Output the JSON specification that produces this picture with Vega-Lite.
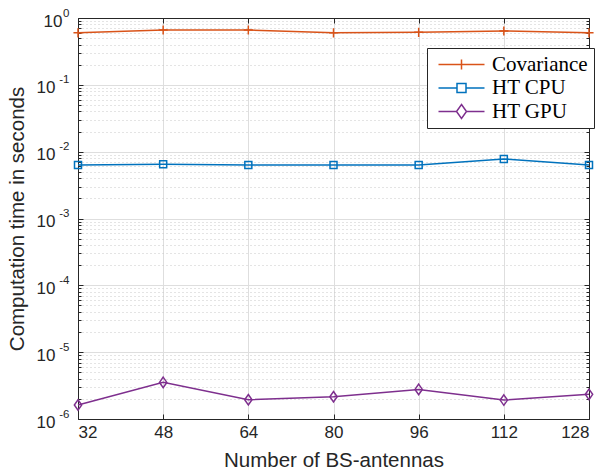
{
  "$schema": "https://vega.github.io/schema/vega-lite/v6.json",
  "width": 511,
  "height": 401,
  "autosize": {"type": "none"},
  "padding": {"left": 78, "top": 18, "right": 24, "bottom": 53},
  "background": "white",
  "config": {
    "view": {"stroke": null},
    "axis": {
      "labelFont": "Liberation Sans",
      "titleFont": "Liberation Sans",
      "labelColor": "#262626",
      "titleColor": "#262626",
      "domainColor": "#262626",
      "tickColor": "#262626",
      "labelFontSize": 17,
      "titleFontSize": 20.5,
      "titleFontWeight": "normal"
    }
  },
  "data": {
    "values": [
      {"n": 32, "series": "Covariance", "t": 0.60},
      {"n": 48, "series": "Covariance", "t": 0.66},
      {"n": 64, "series": "Covariance", "t": 0.66},
      {"n": 80, "series": "Covariance", "t": 0.60},
      {"n": 96, "series": "Covariance", "t": 0.61},
      {"n": 112, "series": "Covariance", "t": 0.64},
      {"n": 128, "series": "Covariance", "t": 0.60},
      {"n": 32, "series": "HT CPU", "t": 0.0063},
      {"n": 48, "series": "HT CPU", "t": 0.0065},
      {"n": 64, "series": "HT CPU", "t": 0.0063},
      {"n": 80, "series": "HT CPU", "t": 0.0063},
      {"n": 96, "series": "HT CPU", "t": 0.0063},
      {"n": 112, "series": "HT CPU", "t": 0.0078},
      {"n": 128, "series": "HT CPU", "t": 0.0063},
      {"n": 32, "series": "HT GPU", "t": 1.62e-6},
      {"n": 48, "series": "HT GPU", "t": 3.53e-6},
      {"n": 64, "series": "HT GPU", "t": 1.94e-6},
      {"n": 80, "series": "HT GPU", "t": 2.15e-6},
      {"n": 96, "series": "HT GPU", "t": 2.77e-6},
      {"n": 112, "series": "HT GPU", "t": 1.92e-6},
      {"n": 128, "series": "HT GPU", "t": 2.34e-6}
    ]
  },
  "resolve": {"axis": {"x": "independent", "y": "independent"}},
  "layer": [
    {
      "mark": {"type": "point", "opacity": 0},
      "encoding": {
        "x": {"field": "n", "type": "quantitative", "scale": {"domain": [32, 128], "nice": false, "zero": false}, "axis": null},
        "y": {"field": "t", "type": "quantitative", "scale": {"type": "log", "domain": [1e-6, 1], "nice": false},
          "axis": {"orient": "left", "title": null, "labels": false, "domain": false, "tickSize": -3, "grid": true, "gridColor": "#c9c9c9", "gridDash": [1, 3], "gridWidth": 1,
            "values": [2e-6,3e-6,4e-6,5e-6,6e-6,7e-6,8e-6,9e-6,2e-5,3e-5,4e-5,5e-5,6e-5,7e-5,8e-5,9e-5,2e-4,3e-4,4e-4,5e-4,6e-4,7e-4,8e-4,9e-4,2e-3,3e-3,4e-3,5e-3,6e-3,7e-3,8e-3,9e-3,0.02,0.03,0.04,0.05,0.06,0.07,0.08,0.09,0.2,0.3,0.4,0.5,0.6,0.7,0.8,0.9]}}
      }
    },
    {
      "mark": {"type": "point", "opacity": 0},
      "encoding": {
        "x": {"field": "n", "type": "quantitative", "axis": null},
        "y": {"field": "t", "type": "quantitative",
          "axis": {"orient": "right", "title": null, "labels": false, "domain": false, "tickSize": -3, "grid": false,
            "values": [2e-6,3e-6,4e-6,5e-6,6e-6,7e-6,8e-6,9e-6,2e-5,3e-5,4e-5,5e-5,6e-5,7e-5,8e-5,9e-5,2e-4,3e-4,4e-4,5e-4,6e-4,7e-4,8e-4,9e-4,2e-3,3e-3,4e-3,5e-3,6e-3,7e-3,8e-3,9e-3,0.02,0.03,0.04,0.05,0.06,0.07,0.08,0.09,0.2,0.3,0.4,0.5,0.6,0.7,0.8,0.9]}}
      }
    },
    {
      "mark": {"type": "point", "opacity": 0},
      "encoding": {
        "x": {"field": "n", "type": "quantitative", "axis": null},
        "y": {"field": "t", "type": "quantitative",
          "axis": {"orient": "left", "title": null, "domain": false, "ticks": false, "grid": false, "values": [1e-6, 1e-5, 1e-4, 1e-3, 1e-2, 1e-1],
            "labelExpr": "'10'", "labelAlign": "right", "labelBaseline": "middle", "labelPadding": 23, "labelOffset": 3, "labelFontSize": 17}}
      }
    },
    {
      "mark": {"type": "point", "opacity": 0},
      "encoding": {
        "x": {"field": "n", "type": "quantitative", "axis": null},
        "y": {"field": "t", "type": "quantitative",
          "axis": {"orient": "left", "title": null, "domain": false, "ticks": false, "grid": false, "values": [1],
            "labelExpr": "'10'", "labelAlign": "right", "labelBaseline": "middle", "labelPadding": 16, "labelOffset": 3, "labelFontSize": 17}}
      }
    },
    {
      "mark": {"type": "point", "opacity": 0},
      "encoding": {
        "x": {"field": "n", "type": "quantitative", "axis": null},
        "y": {"field": "t", "type": "quantitative",
          "axis": {"orient": "left", "title": null, "domain": false, "ticks": false, "grid": false, "values": [1e-6, 1e-5, 1e-4, 1e-3, 1e-2, 1e-1, 1],
            "labelExpr": "['0','-1','-2','-3','-4','-5','-6'][round(-log(datum.value)/LN10)]",
            "labelAlign": "right", "labelBaseline": "middle", "labelPadding": 9, "labelOffset": -5, "labelFontSize": 11.5}}
      }
    },
    {
      "mark": {"type": "line", "strokeWidth": 1.5},
      "encoding": {
        "x": {"field": "n", "type": "quantitative",
          "axis": {"orient": "bottom", "title": "Number of BS-antennas", "values": [32, 48, 64, 80, 96, 112, 128], "tickSize": -5, "labelPadding": 10, "titlePadding": 10, "grid": true, "gridColor": "#dedede", "domainWidth": 1}},
        "y": {"field": "t", "type": "quantitative",
          "axis": {"orient": "left", "title": "Computation time in seconds", "values": [1e-6, 1e-5, 1e-4, 1e-3, 1e-2, 1e-1, 1],
            "labels": false, "tickSize": -5, "titlePadding": 50, "grid": true, "gridColor": "#dedede", "domainWidth": 1}},
        "color": {"field": "series", "type": "nominal",
          "scale": {"domain": ["Covariance", "HT CPU", "HT GPU"], "range": ["#D95319", "#0072BD", "#7E2F8E"]}}
      }
    },
    {
      "mark": {"type": "point", "filled": false, "strokeWidth": 1.5, "size": 49, "opacity": 0},
      "encoding": {
        "x": {"field": "n", "type": "quantitative",
          "axis": {"orient": "top", "title": null, "labels": false, "values": [32, 48, 64, 80, 96, 112, 128], "tickSize": -5, "grid": false}},
        "y": {"field": "t", "type": "quantitative",
          "axis": {"orient": "right", "title": null, "labels": false, "values": [1e-6, 1e-5, 1e-4, 1e-3, 1e-2, 1e-1, 1], "tickSize": -5, "grid": false}},
        "color": {"field": "series", "type": "nominal",
          "legend": {"title": null, "orient": "none", "legendX": 349, "legendY": 30, "direction": "vertical",
            "labelFont": "Liberation Serif", "labelFontSize": 21, "labelColor": "#000000", "fillColor": "white", "strokeColor": "#262626", "padding": 6,
            "symbolSize": 100, "symbolStrokeWidth": 1.5, "symbolOpacity": 1, "symbolOffset": 18, "labelOffset": 20, "rowPadding": 1.5}},
        "shape": {"field": "series", "type": "nominal",
          "scale": {"domain": ["Covariance", "HT CPU", "HT GPU"], "range": ["M-4.6,0H4.6M0,-1V1", "M-4.6,0H-0.9M0.9,0H4.6M-0.9,-0.9H0.9V0.9H-0.9Z", "M-4.6,0H-1M1,0H4.6M0,-1.4L1,0L0,1.4L-1,0Z"]},
          "legend": {"title": null, "orient": "none", "legendX": 349, "legendY": 30, "direction": "vertical",
            "labelFont": "Liberation Serif", "labelFontSize": 21, "labelColor": "#000000", "fillColor": "white", "strokeColor": "#262626", "padding": 6,
            "symbolSize": 100, "symbolStrokeWidth": 1.5, "symbolOpacity": 1, "symbolOffset": 18, "labelOffset": 20, "rowPadding": 1.5}}
      }
    },
    {
      "transform": [{"filter": "datum.series === 'Covariance'"}],
      "mark": {"type": "point", "filled": false, "strokeWidth": 1.5, "size": 49, "opacity": 1, "color": "#D95319", "shape": "M-1.3,0H1.3M0,-1.3V1.3"},
      "encoding": {
        "x": {"field": "n", "type": "quantitative", "axis": null},
        "y": {"field": "t", "type": "quantitative", "axis": null}
      }
    },
    {
      "transform": [{"filter": "datum.series === 'HT CPU'"}],
      "mark": {"type": "point", "filled": false, "strokeWidth": 1.5, "size": 49, "opacity": 1, "color": "#0072BD", "shape": "M-1,-1H1V1H-1Z"},
      "encoding": {
        "x": {"field": "n", "type": "quantitative", "axis": null},
        "y": {"field": "t", "type": "quantitative", "axis": null}
      }
    },
    {
      "transform": [{"filter": "datum.series === 'HT GPU'"}],
      "mark": {"type": "point", "filled": false, "strokeWidth": 1.5, "size": 49, "opacity": 1, "color": "#7E2F8E", "shape": "M0,-1.5L1.05,0L0,1.5L-1.05,0Z"},
      "encoding": {
        "x": {"field": "n", "type": "quantitative", "axis": null},
        "y": {"field": "t", "type": "quantitative", "axis": null}
      }
    }
  ]
}
